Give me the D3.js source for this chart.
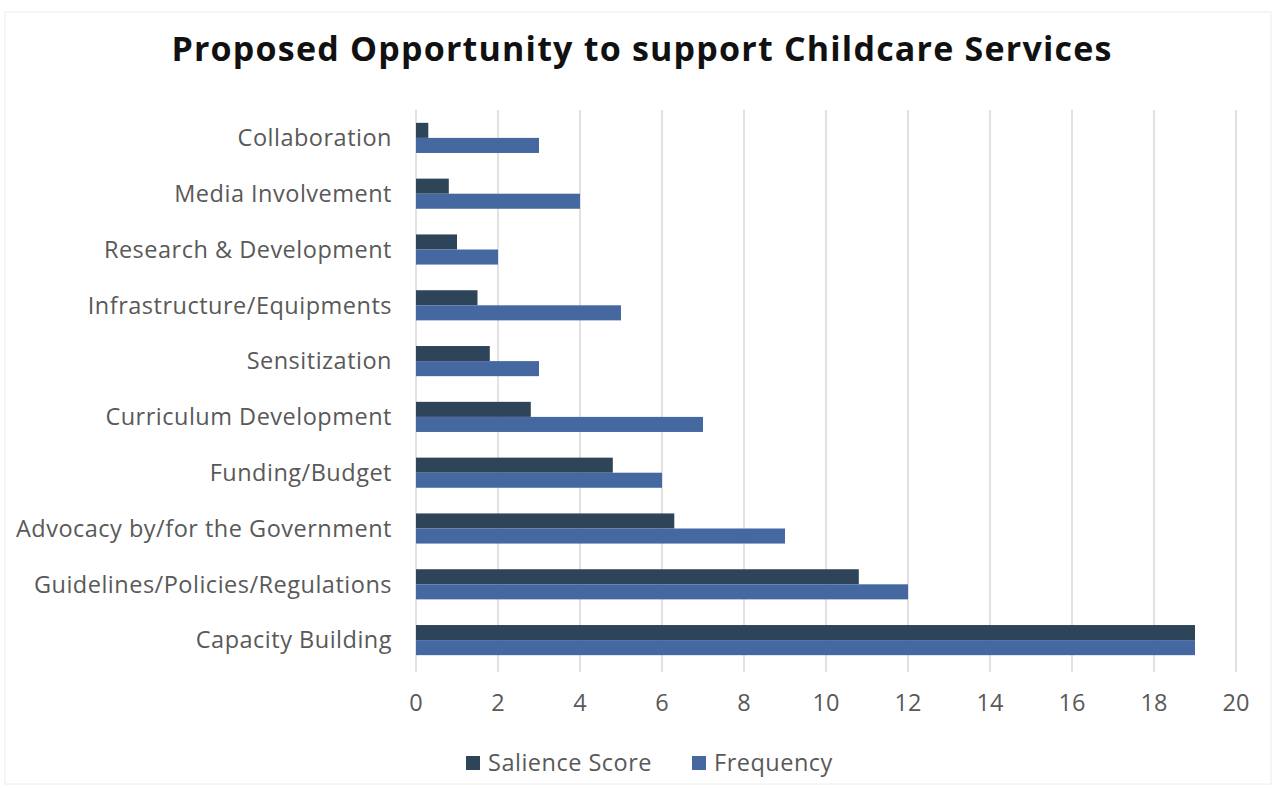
<!DOCTYPE html>
<html>
<head>
<meta charset="utf-8">
<script src="https://cdn.jsdelivr.net/npm/d3@7"></script>
<style>
  body { margin: 0; background: #fff; }
  text { font-family: "Open Sans", "Liberation Sans", sans-serif; }
</style>
</head>
<body>
<div id="chart"></div>
<script>
// categories top to bottom
const categories = [
  'Collaboration',
  'Media Involvement',
  'Research & Development',
  'Infrastructure/Equipments',
  'Sensitization',
  'Curriculum Development',
  'Funding/Budget',
  'Advocacy by/for the Government',
  'Guidelines/Policies/Regulations',
  'Capacity Building'
];
const salience = [0.3, 0.8, 1.0, 1.5, 1.8, 2.8, 4.8, 6.3, 10.8, 19];
const frequency = [3, 4, 2, 5, 3, 7, 6, 9, 12, 19];
const xTicks = [0, 2, 4, 6, 8, 10, 12, 14, 16, 18, 20];
const seriesNames = ['Salience Score', 'Frequency'];
const colors = ['#2e4459', '#4568a0'];

var W = 1276, H = 788;

var svg = d3.select('#chart').append('svg')
  .attr('width', W)
  .attr('height', H);

svg.append('rect')
  .attr('x', 5).attr('y', 12)
  .attr('width', W - 10).attr('height', H - 16)
  .attr('fill', '#fff')
  .attr('stroke', '#ececec');

svg.append('text')
  .attr('x', 642).attr('y', 61)
  .attr('text-anchor', 'middle')
  .attr('font-size', 34)
  .attr('font-weight', 'bold')
  .attr('letter-spacing', 1.2)
  .attr('fill', '#111')
  .text('Proposed Opportunity to support Childcare Services');

var x = d3.scaleLinear().domain([0, 20]).range([416, 1236]);
var y = d3.scaleBand().domain(categories).range([110, 668]).paddingInner(0.46).paddingOuter(0.23);
var ySub = d3.scaleBand().domain(seriesNames).range([0, y.bandwidth()]);

// gridlines
svg.append('g').selectAll('line')
  .data(xTicks)
  .enter().append('line')
  .attr('x1', d => x(d)).attr('x2', d => x(d))
  .attr('y1', 110).attr('y2', 672)
  .attr('stroke', '#d9d9d9')
  .attr('stroke-width', 1.5);

// bars
var rows = categories.map((c, i) => ({cat: c, vals: [salience[i], frequency[i]]}));
var groups = svg.append('g').selectAll('g')
  .data(rows)
  .enter().append('g')
  .attr('transform', d => 'translate(0,' + y(d.cat) + ')');

groups.selectAll('rect')
  .data(d => d.vals.map((v, j) => ({s: seriesNames[j], v: v, j: j})))
  .enter().append('rect')
  .attr('x', x(0))
  .attr('y', d => ySub(d.s))
  .attr('width', d => x(d.v) - x(0))
  .attr('height', ySub.bandwidth())
  .attr('fill', d => colors[d.j]);

// category labels
svg.append('g').selectAll('text')
  .data(categories)
  .enter().append('text')
  .attr('x', 392)
  .attr('y', d => y(d) + y.bandwidth() / 2)
  .attr('dy', '0.35em')
  .attr('text-anchor', 'end')
  .attr('font-size', 23.5)
  .attr('letter-spacing', 0.5)
  .attr('fill', '#595959')
  .text(d => d);

// x tick labels
svg.append('g').selectAll('text')
  .data(xTicks)
  .enter().append('text')
  .attr('x', d => x(d))
  .attr('y', 703)
  .attr('dy', '0.35em')
  .attr('text-anchor', 'middle')
  .attr('font-size', 23.5)
  .attr('fill', '#595959')
  .text(d => d);

// legend
var leg = svg.append('g').attr('transform', 'translate(466,763)');
var legX = [0, 226];
seriesNames.forEach((s, i) => {
  leg.append('rect')
    .attr('x', legX[i]).attr('y', -7)
    .attr('width', 14).attr('height', 14)
    .attr('fill', colors[i]);
  leg.append('text')
    .attr('x', legX[i] + 22).attr('y', 0)
    .attr('dy', '0.35em')
    .attr('font-size', 23.5)
    .attr('letter-spacing', 0.5)
    .attr('fill', '#595959')
    .text(s);
});
</script>
</body>
</html>
